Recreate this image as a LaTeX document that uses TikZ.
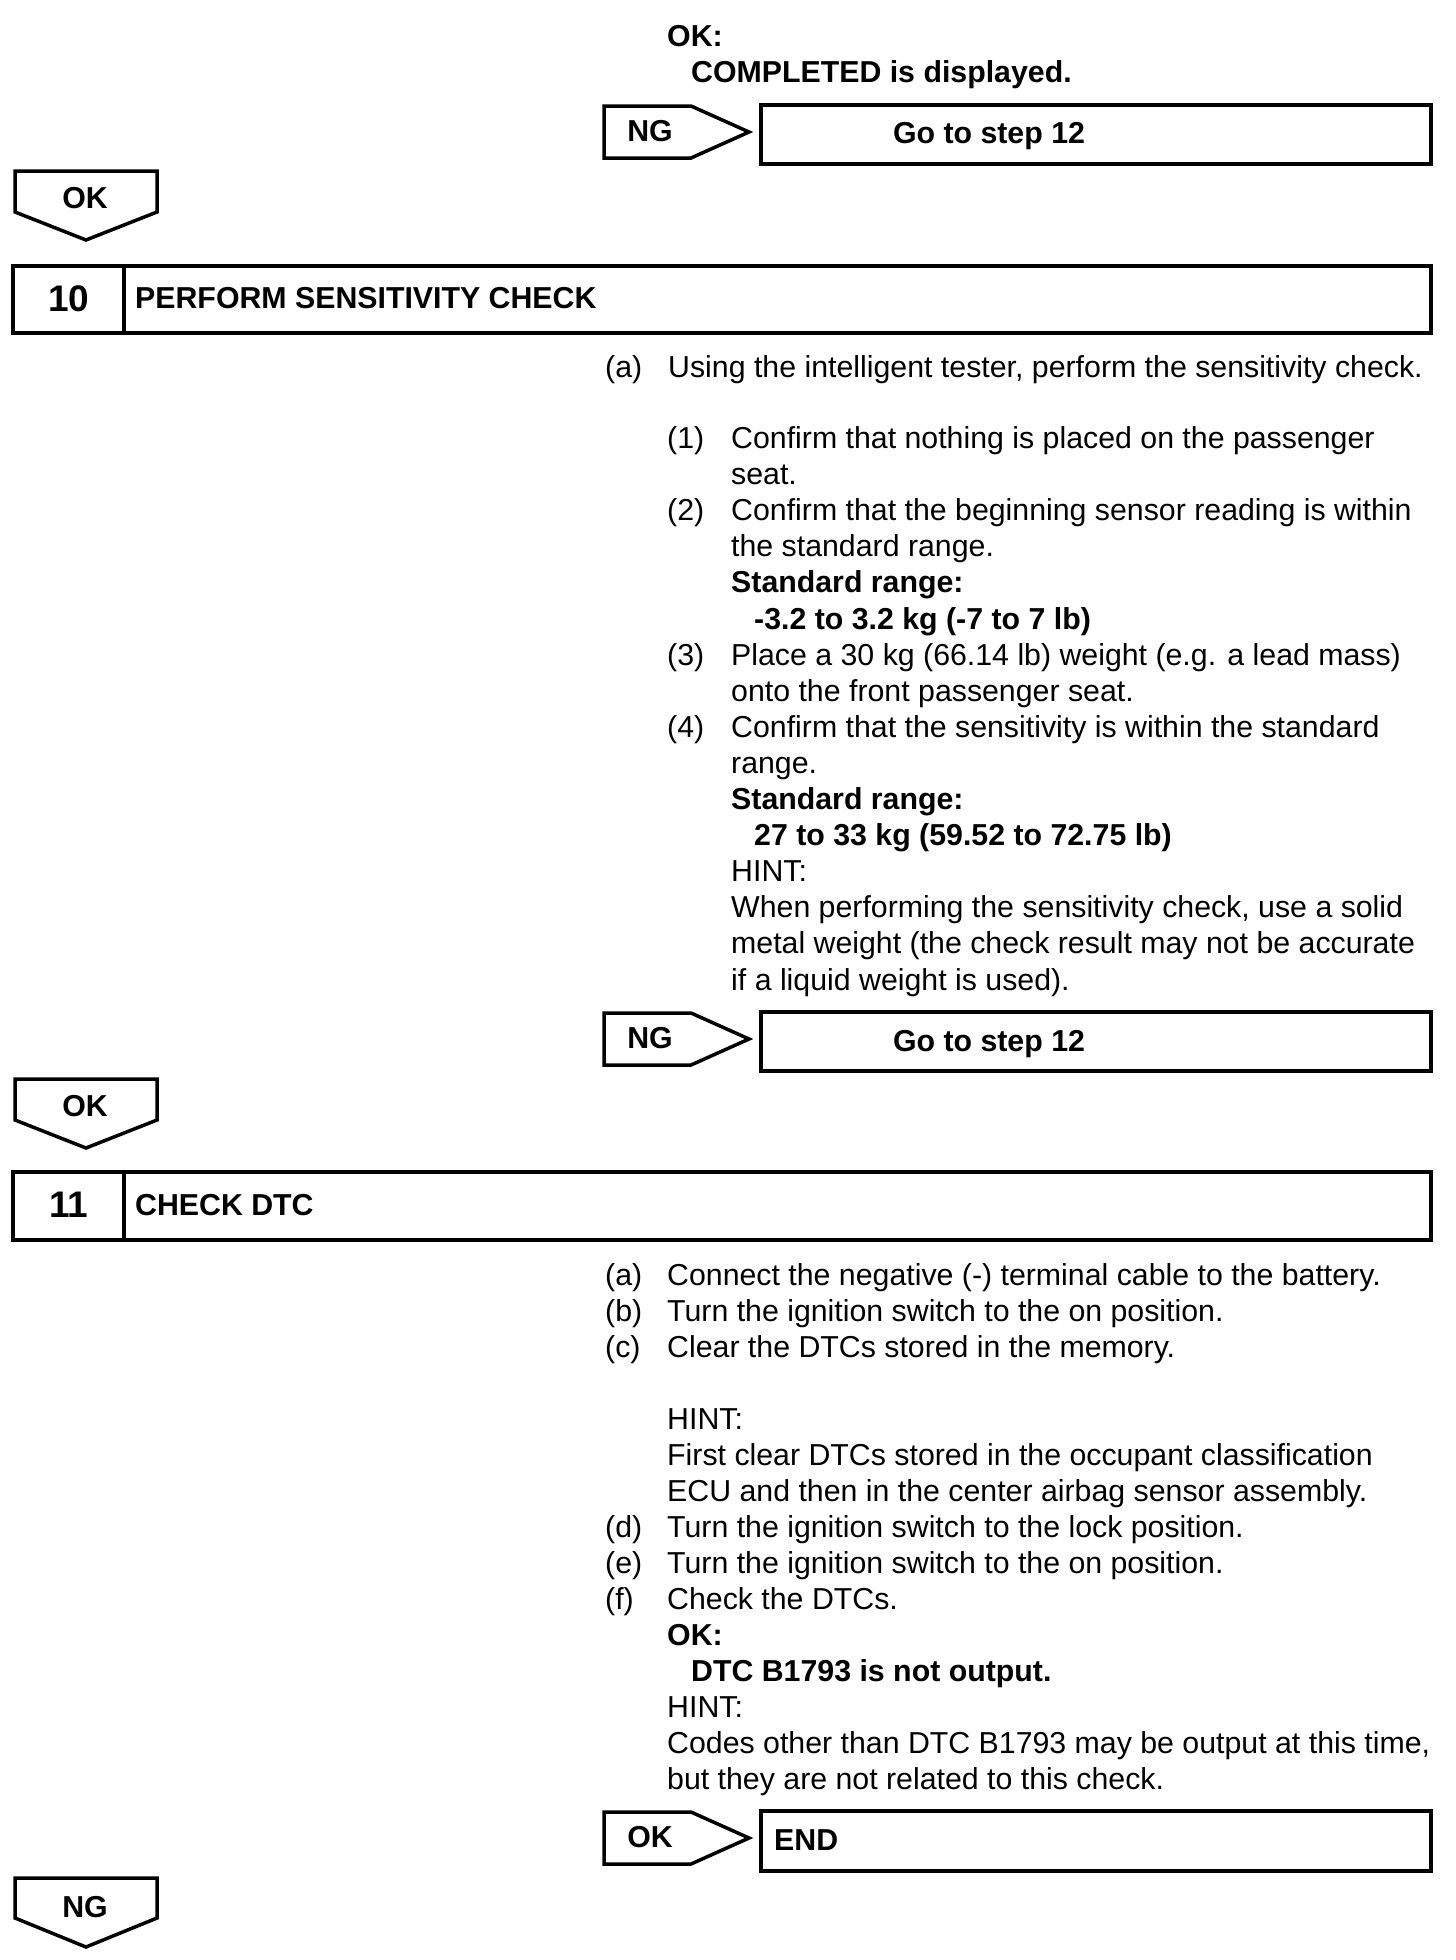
\documentclass[tikz,border=0pt]{standalone}
\usepackage{fontspec}
\setmainfont{Liberation Sans}
\begin{document}
\begin{tikzpicture}[x=1pt,y=-1pt,
  txt/.style={anchor=base west, inner sep=0pt, font=\fontsize{30.3}{36}\selectfont},
  btxt/.style={anchor=base west, inner sep=0pt, font=\fontsize{30.3}{36}\selectfont\bfseries},
  lbl/.style={anchor=center, inner sep=0pt, font=\fontsize{30.3}{36}\selectfont\bfseries},
  frame/.style={line width=3.5pt, line join=miter}]
\useasboundingbox (0,0) rectangle (1456,1960);

% ---- top ----
\node[btxt] (okA) at (667,46) {OK:};
\node[btxt] (okAv) at (691,82) {COMPLETED is displayed.};

\draw[frame] (604,106) -- (691,106) -- (749,132) -- (691,158) -- (604,158) -- cycle;
\node[lbl] (ng1) at (650,131) {NG};
\draw[frame] (761,105) rectangle (1431,164);
\node[lbl] (go1) at (989,136) {Go to step 12};

\draw[frame] (15,171) -- (157,171) -- (157,212) -- (86,240) -- (15,212) -- cycle;
\node[lbl] (ok1) at (85,198) {OK};

% ---- step 10 ----
\draw[frame] (13,266) rectangle (1431,333);
\draw[frame] (124,266) -- (124,333);
\node[anchor=base, inner sep=0pt, font=\fontsize{37}{40}\selectfont\bfseries] (s10) at (69,311) {10};
\node[btxt] (t10) at (135,308) {PERFORM SENSITIVITY CHECK};

\node[txt] (a10) at (605,377) {(a)};
\node[txt] (a10t) at (668,377) {Using the intelligent tester, perform the sensitivity check.};

\def\Lz{448.5}\def\Lp{36.1}
\node[txt] (n1) at (667,{\Lz+0*\Lp}) {(1)};
\node[txt] (n1a) at (731,{\Lz+0*\Lp}) {Confirm that nothing is placed on the passenger};
\node[txt] (n1b) at (731,{\Lz+1*\Lp}) {seat.};
\node[txt] (n2) at (667,{\Lz+2*\Lp}) {(2)};
\node[txt] (n2a) at (731,{\Lz+2*\Lp}) {Confirm that the beginning sensor reading is within};
\node[txt] (n2b) at (731,{\Lz+3*\Lp}) {the standard range.};
\node[btxt] (n2c) at (731,{\Lz+4*\Lp}) {Standard range:};
\node[btxt] (n2d) at (754,{\Lz+5*\Lp}) {-3.2 to 3.2 kg (-7 to 7 lb)};
\node[txt] (n3) at (667,{\Lz+6*\Lp}) {(3)};
\node[txt] (n3a) at (731,{\Lz+6*\Lp}) {Place a 30 kg (66.14 lb) weight (e.g. a lead mass)};
\node[txt] (n3b) at (731,{\Lz+7*\Lp}) {onto the front passenger seat.};
\node[txt] (n4) at (667,{\Lz+8*\Lp}) {(4)};
\node[txt] (n4a) at (731,{\Lz+8*\Lp}) {Confirm that the sensitivity is within the standard};
\node[txt] (n4b) at (731,{\Lz+9*\Lp}) {range.};
\node[btxt] (n4c) at (731,{\Lz+10*\Lp}) {Standard range:};
\node[btxt] (n4d) at (754,{\Lz+11*\Lp}) {27 to 33 kg (59.52 to 72.75 lb)};
\node[txt] (n4e) at (731,{\Lz+12*\Lp}) {HINT:};
\node[txt] (n4f) at (731,{\Lz+13*\Lp}) {When performing the sensitivity check, use a solid};
\node[txt] (n4g) at (731,{\Lz+14*\Lp}) {metal weight (the check result may not be accurate};
\node[txt] (n4h) at (731,{\Lz+15*\Lp}) {if a liquid weight is used).};

\draw[frame] (604,1013) -- (691,1013) -- (749,1039) -- (691,1065) -- (604,1065) -- cycle;
\node[lbl] (ng2) at (650,1038) {NG};
\draw[frame] (761,1012) rectangle (1431,1071);
\node[lbl] (go2) at (989,1044) {Go to step 12};

\draw[frame] (15,1079) -- (157,1079) -- (157,1120) -- (86,1148) -- (15,1120) -- cycle;
\node[lbl] (ok2) at (85,1106) {OK};

% ---- step 11 ----
\draw[frame] (13,1172) rectangle (1431,1240);
\draw[frame] (124,1172) -- (124,1240);
\node[anchor=base, inner sep=0pt, font=\fontsize{37}{40}\selectfont\bfseries] (s11) at (69,1217) {11};
\node[btxt] (t11) at (135,1215) {CHECK DTC};

\def\Mz{1285}\def\Mp{36}
\node[txt] (ma) at (605,{\Mz+0*\Mp}) {(a)};
\node[txt] (mat) at (667,{\Mz+0*\Mp}) {Connect the negative (-) terminal cable to the battery.};
\node[txt] (mb) at (605,{\Mz+1*\Mp}) {(b)};
\node[txt] (mbt) at (667,{\Mz+1*\Mp}) {Turn the ignition switch to the on position.};
\node[txt] (mc) at (605,{\Mz+2*\Mp}) {(c)};
\node[txt] (mct) at (667,{\Mz+2*\Mp}) {Clear the DTCs stored in the memory.};
\node[txt] (mh1) at (667,{\Mz+4*\Mp}) {HINT:};
\node[txt] (mh2) at (667,{\Mz+5*\Mp}) {First clear DTCs stored in the occupant classification};
\node[txt] (mh3) at (667,{\Mz+6*\Mp}) {ECU and then in the center airbag sensor assembly.};
\node[txt] (md) at (605,{\Mz+7*\Mp}) {(d)};
\node[txt] (mdt) at (667,{\Mz+7*\Mp}) {Turn the ignition switch to the lock position.};
\node[txt] (me) at (605,{\Mz+8*\Mp}) {(e)};
\node[txt] (met) at (667,{\Mz+8*\Mp}) {Turn the ignition switch to the on position.};
\node[txt] (mf) at (605,{\Mz+9*\Mp}) {(f)};
\node[txt] (mft) at (667,{\Mz+9*\Mp}) {Check the DTCs.};
\node[btxt] (mok) at (667,{\Mz+10*\Mp}) {OK:};
\node[btxt] (mokv) at (691,{\Mz+11*\Mp}) {DTC B1793 is not output.};
\node[txt] (mh4) at (667,{\Mz+12*\Mp}) {HINT:};
\node[txt] (mh5) at (667,{\Mz+13*\Mp}) {Codes other than DTC B1793 may be output at this time,};
\node[txt] (mh6) at (667,{\Mz+14*\Mp}) {but they are not related to this check.};

\draw[frame] (604,1812) -- (691,1812) -- (749,1838) -- (691,1864) -- (604,1864) -- cycle;
\node[lbl] (ok3) at (650,1837) {OK};
\draw[frame] (761,1811) rectangle (1431,1871);
\node[lbl, anchor=west] (end) at (774,1840) {END};

\draw[frame] (15,1878) -- (157,1878) -- (157,1918) -- (86,1947) -- (15,1918) -- cycle;
\node[lbl] (ng3) at (85,1907) {NG};
\end{tikzpicture}
\end{document}
